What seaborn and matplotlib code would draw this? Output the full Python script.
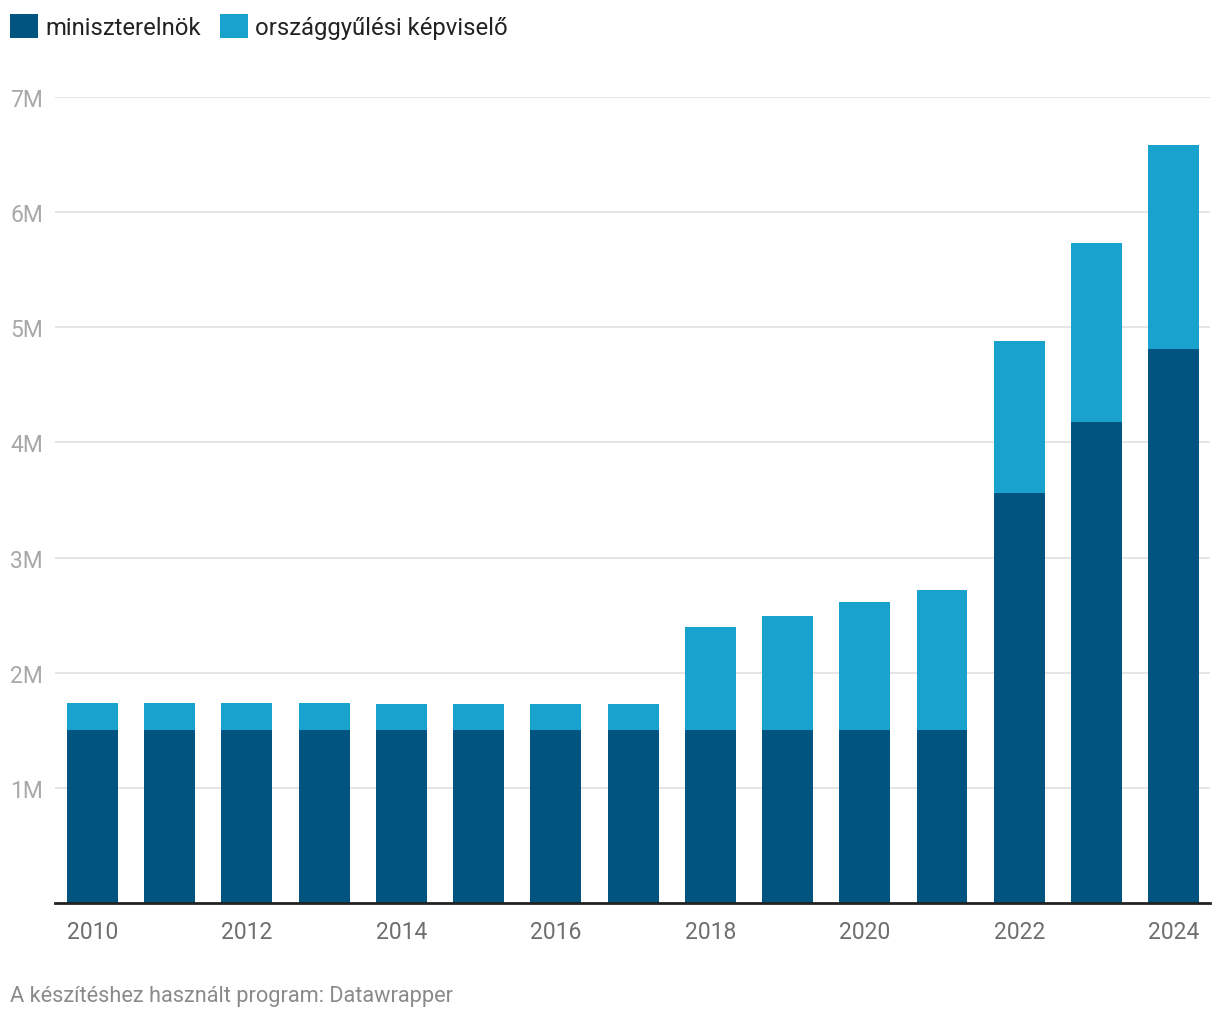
import pandas as pd
import seaborn as sns
import matplotlib.pyplot as plt
from matplotlib.patches import Patch

# Data (HUF per month)
years = list(range(2010, 2025))
miniszterelnok = [1.50e6, 1.50e6, 1.50e6, 1.50e6, 1.50e6, 1.50e6, 1.50e6, 1.50e6,
                  1.50e6, 1.50e6, 1.50e6, 1.50e6, 3.56e6, 4.18e6, 4.81e6]
totals = [1.74e6, 1.74e6, 1.74e6, 1.74e6, 1.73e6, 1.73e6, 1.73e6, 1.73e6,
          2.40e6, 2.49e6, 2.61e6, 2.72e6, 4.88e6, 5.73e6, 6.58e6]
y_ticks = [1e6, 2e6, 3e6, 4e6, 5e6, 6e6, 7e6]
y_labels = ['1M', '2M', '3M', '4M', '5M', '6M', '7M']
series_names = ['miniszterelnök', 'országgyűlési képviselő']

dark = '#00547f'
light = '#19a2ce'

df = pd.DataFrame({'year': [str(y) for y in years],
                   'pm': miniszterelnok,
                   'total': totals})

sns.set_theme(style='white')
plt.rcParams['font.family'] = ['Roboto', 'DejaVu Sans']

fig = plt.figure(figsize=(12.2, 10.2), dpi=100)
ax = fig.add_axes([55 / 1220, 116 / 1020, 1155 / 1220, 806 / 1020])

# stacked bars: total in light blue, PM part in dark blue on top of it
sns.barplot(data=df, x='year', y='total', color=light, width=0.66,
            saturation=1, linewidth=0, ax=ax, zorder=2)
sns.barplot(data=df, x='year', y='pm', color=dark, width=0.66,
            saturation=1, linewidth=0, ax=ax, zorder=3)

ax.set_xlim(-0.485, 14.47)
ax.set_ylim(0, 7e6)
ax.set_xlabel('')
ax.set_ylabel('')

# gridlines
ax.set_yticks(y_ticks)
ax.set_yticklabels(y_labels, ha='left')
ax.yaxis.grid(True, color='#e3e3e3', linewidth=1.3, zorder=0)
ax.tick_params(axis='y', length=0, pad=32.4, labelsize=16.5, labelcolor='#a8a8a8')

# x labels every other year
ax.set_xticks(range(0, len(years), 2))
ax.set_xticklabels([str(y) for y in years[::2]])
ax.tick_params(axis='x', length=0, pad=12, labelsize=16.5, labelcolor='#6e6e6e')

for side in ['top', 'right', 'left']:
    ax.spines[side].set_visible(False)
ax.spines['bottom'].set_color('#222222')
ax.spines['bottom'].set_linewidth(2)
ax.spines['bottom'].set_zorder(5)

# legend
handles = [Patch(facecolor=dark, edgecolor='none'), Patch(facecolor=light, edgecolor='none')]
fig.legend(handles, series_names, loc='upper left', bbox_to_anchor=(10 / 1220, 1 - 15 / 1020),
           ncol=2, frameon=False, fontsize=17.2, labelcolor='#222222',
           handlelength=1.165, handleheight=1.165, handletextpad=0.3,
           columnspacing=0.83, borderpad=0, borderaxespad=0)

fig.text(10 / 1220, 1 - 997 / 1020, 'A készítéshez használt program: Datawrapper',
         fontsize=15.7, color='#8a8a8a', va='center', ha='left')

fig.savefig('out.png', dpi=100)
